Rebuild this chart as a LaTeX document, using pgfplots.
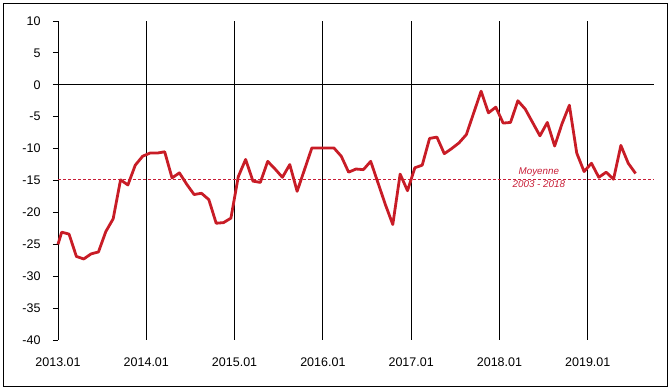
\documentclass[border=0pt]{standalone}
\usepackage{pgfplots}
\pgfplotsset{compat=1.18}
\usepackage{fontspec}
\setmainfont{Liberation Sans}
\definecolor{serie}{RGB}{200,28,38}
\definecolor{meanred}{RGB}{200,30,55}
\pgfplotstableread{
x y
0 -25.0
0.5 -23.1
1.5 -23.4
2.5 -26.9
3.5 -27.3
4.5 -26.5
5.5 -26.2
6.5 -23.0
7.5 -21.0
8.5 -14.9
9.5 -15.7
10.5 -12.6
11.5 -11.2
12.5 -10.7
13.5 -10.7
14.5 -10.5
15.5 -14.6
16.5 -13.8
17.5 -15.6
18.5 -17.2
19.5 -17.0
20.5 -18.0
21.5 -21.7
22.5 -21.6
23.5 -20.9
24.5 -14.4
25.5 -11.7
26.5 -15.1
27.5 -15.3
28.5 -12.0
29.5 -13.2
30.5 -14.5
31.5 -12.5
32.5 -16.7
33.5 -13.3
34.5 -9.9
35.5 -9.9
36.5 -9.9
37.5 -9.9
38.5 -11.2
39.5 -13.7
40.5 -13.2
41.5 -13.3
42.5 -12.0
43.5 -15.4
44.5 -18.8
45.5 -21.9
46.5 -14.0
47.5 -16.6
48.5 -13.0
49.5 -12.6
50.5 -8.4
51.5 -8.2
52.5 -10.8
53.5 -10.0
54.5 -9.1
55.5 -7.8
56.5 -4.4
57.5 -1.0
58.5 -4.4
59.5 -3.5
60.5 -6.0
61.5 -5.9
62.5 -2.5
63.5 -3.8
64.5 -5.9
65.5 -8.0
66.5 -5.9
67.5 -9.6
68.5 -6.1
69.5 -3.2
70.5 -10.7
71.5 -13.6
72.5 -12.3
73.5 -14.5
74.5 -13.7
75.5 -14.8
76.5 -9.5
77.5 -12.3
78.5 -13.9
}\datatable
\begin{document}
\begin{tikzpicture}
\begin{axis}[
  scale only axis,
  width=596pt, height=319pt,
  xmin=0, xmax=81, ymin=-40, ymax=10,
  axis lines=left,
  axis line style={-},
  x axis line style={draw=none},
  y axis line style={black, line width=0.8pt},
  xtick={0,12,24,36,48,60,72},
  xticklabels={2013.01,2014.01,2015.01,2016.01,2017.01,2018.01,2019.01},
  ytick={-40,-35,...,10},
  xtick style={draw=none},
  ytick style={black, line width=0.8pt},
  tick align=outside,
  major tick length=5pt,
  xmajorgrids,
  major grid style={black, line width=0.8pt},
  /pgf/number format/assume math mode=true,
  tick label style={font=\fontsize{12.5}{14}\selectfont},
  yticklabel style={xshift=-9pt},
  xticklabel style={yshift=-9pt},
  clip=false,
]
\addplot[black, line width=0.8pt] coordinates {(0,0) (81,0)};
\addplot[meanred, line width=0.9pt, dash pattern=on 3pt off 2pt] coordinates {(0,-14.8) (81,-14.8)};
\addplot[serie, line width=2.8pt, line join=round] table[x=x,y=y] {\datatable};
\node[meanred, font=\fontsize{9.8}{13.3}\selectfont\itshape, align=center] at (axis cs:65.35,-14.6) {Moyenne\\2003 - 2018};
\end{axis}
\draw[black, line width=0.8pt] (-55pt,-46pt) rectangle (609pt,337pt);
\useasboundingbox (-58pt,-50pt) rectangle (612pt,340pt);
\end{tikzpicture}
\end{document}
